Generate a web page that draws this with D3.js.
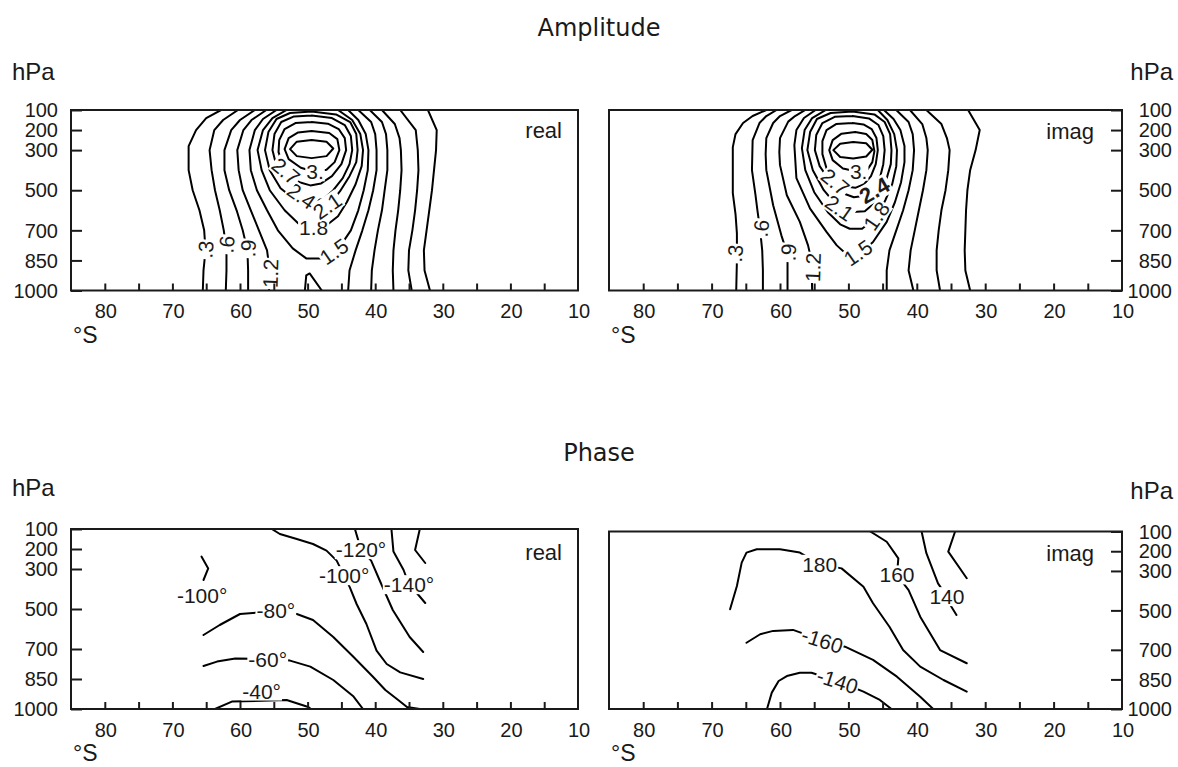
<!DOCTYPE html>
<html><head><meta charset="utf-8">
<script src="https://cdn.jsdelivr.net/npm/d3@7"></script>
<style>body{margin:0;background:#fff}svg{display:block}</style>
</head><body>
<svg id="c" width="1178" height="767"></svg>
<script>
// ---------- axis data ----------
const latTicks = [80,75,70,65,60,55,50,45,40,35,30,25,20,15];
const latLabels = [80,70,60,50,40,30,20,10];
const pTicks = [100,200,300,500,700,850,1000];
const latDomain = [85,10];
const pDomain = [100,1000];

// ---------- Amplitude, real : contour lines [lat, hPa] ----------
const ampReal_03 = [[62.8,100],[65.0,140],[66.5,200],[67.6,280],[67.6,400],[67.0,500],[66.0,600],[65.3,700],[65.1,800],[65.4,900],[65.5,1000]];
const ampReal_06 = [[60.3,100],[62.5,150],[63.8,200],[64.5,300],[64.2,400],[63.7,500],[63.0,600],[62.4,700],[62.0,800],[62.0,900],[62.1,1000]];
const ampReal_09 = [[57.8,100],[60.0,150],[61.3,200],[62.3,300],[62.3,400],[61.6,500],[60.5,600],[59.6,700],[58.9,800],[58.8,900],[58.8,1000]];
const ampReal_12 = [[56.1,100],[58.3,150],[59.5,200],[60.4,300],[60.2,400],[59.6,500],[58.4,600],[57.2,700],[56.0,800],[55.6,900],[55.7,1000]];
const ampReal_15 = [[54.6,100],[56.6,145],[57.8,200],[58.6,300],[58.4,400],[57.5,500],[56.0,600],[54.4,700],[52.2,790],[50.2,840],[48.0,840],[46.0,810],[44.6,750],[43.6,700],[42.5,600],[41.7,500],[41.1,400],[41.0,300],[41.4,220],[42.5,150],[44.0,100]];
const ampReal_18 = [[53.1,100],[55.2,140],[56.6,200],[57.4,300],[56.8,400],[55.6,500],[53.4,600],[51.4,665],[49.2,688],[47.0,670],[45.5,630],[44.2,560],[42.9,470],[42.0,380],[41.8,300],[42.2,220],[43.4,150],[45.5,100]];
const ampReal_21 = [[49.4,108],[52.6,115],[54.6,145],[55.8,210],[56.3,300],[55.6,400],[54.0,490],[51.6,555],[49.0,592],[47.6,590],[46.6,565],[45.2,505],[43.8,430],[42.8,360],[42.6,300],[42.8,220],[43.7,160],[45.8,122],[49.4,108]];
const ampReal_24 = [[49.4,128],[52.0,132],[53.9,160],[54.9,220],[55.2,300],[54.6,380],[53.2,450],[51.6,505],[50.4,535],[49.0,552],[47.6,542],[46.2,500],[44.8,440],[43.8,370],[43.4,300],[43.6,230],[44.5,175],[46.4,140],[49.4,128]];
const ampReal_27 = [[49.4,160],[51.8,165],[53.4,195],[54.2,250],[54.3,310],[53.6,380],[52.6,425],[51.2,460],[49.6,476],[48.0,466],[46.4,430],[45.0,370],[44.3,300],[44.5,240],[45.4,195],[47.0,168],[49.4,160]];
const ampReal_30 = [[49.4,205],[51.4,212],[52.8,240],[53.4,295],[52.8,345],[51.0,388],[49.0,408],[47.2,398],[46.0,360],[45.3,300],[45.6,245],[46.8,215],[49.4,205]];
const ampReal_33 = [[52.6,295],[51.6,258],[49.4,250],[47.2,258],[46.2,292],[47.2,330],[49.4,340],[51.6,330],[52.6,295]];
const ampReal_R5 = [[42.5,100],[40.6,160],[40.0,220],[39.8,300],[39.8,400],[40.3,500],[41.0,600],[41.9,700],[42.9,800],[43.8,900],[44.0,1000]];
const ampReal_R4 = [[40.8,100],[39.0,160],[38.4,220],[38.2,300],[38.2,400],[38.6,500],[39.0,600],[39.6,700],[40.1,800],[40.5,900],[40.6,1000]];
const ampReal_R3 = [[39.0,100],[37.1,170],[36.4,240],[36.2,300],[36.1,400],[36.3,500],[36.6,600],[37.0,700],[37.3,800],[37.4,900],[37.3,1000]];
const ampReal_R2 = [[36.3,100],[34.0,200],[33.7,300],[33.6,400],[33.8,500],[34.1,600],[34.5,700],[35.0,800],[35.1,900],[34.6,1000]];
const ampReal_R1 = [[32.2,100],[30.9,200],[31.0,300],[31.3,400],[31.6,500],[32.0,600],[32.4,700],[32.8,800],[32.7,900],[31.9,1000]];
const ampReal_low = [[50.4,1000],[50.2,925],[49.7,915],[47.9,1000]];
const ampRealLabels = [
  {t:".3",lat:65.1,p:795,a:-85},{t:".6",lat:62.0,p:770,a:-85},{t:".9",lat:58.8,p:790,a:-88},
  {t:"1.2",lat:55.5,p:915,a:-88},{t:"1.5",lat:46.1,p:805,a:-35},{t:"1.8",lat:49.1,p:688,a:0},
  {t:"2.1",lat:47.1,p:578,a:-35},{t:"2.4",lat:50.9,p:528,a:35},{t:"2.7",lat:53.2,p:405,a:40},
  {t:"3.",lat:48.9,p:408,a:0}];

// ---------- Amplitude, imag ----------
const ampImag_03 = [[62.0,100],[64.0,130],[65.4,165],[66.5,220],[66.9,285],[66.9,400],[66.9,515],[66.5,620],[66.3,715],[66.3,850],[66.4,1000]];
const ampImag_06 = [[60.5,100],[62.0,130],[63.0,165],[64.0,250],[64.1,400],[63.6,520],[63.3,600],[62.9,700],[62.6,800],[62.5,900],[62.5,1000]];
const ampImag_09 = [[58.3,100],[60.0,130],[61.0,165],[62.0,240],[62.1,320],[62.0,400],[61.0,575],[59.8,725],[58.9,820],[58.9,900],[58.9,1000]];
const ampImag_12 = [[56.3,100],[57.8,130],[58.8,158],[60.0,240],[60.1,310],[60.0,375],[59.0,525],[57.1,658],[55.9,775],[55.4,850],[55.3,1000]];
const ampImag_15 = [[54.8,100],[56.5,140],[57.6,200],[57.9,275],[57.6,440],[55.6,592],[53.2,708],[51.7,775],[50.4,815],[49.4,825],[48.0,805],[46.4,758],[44.4,658],[43.2,560],[42.3,460],[41.8,360],[41.8,280],[42.4,200],[43.4,145],[44.8,100]];
const ampImag_18 = [[53.3,100],[55.3,140],[56.4,200],[56.8,290],[56.3,400],[55.0,510],[53.0,610],[51.2,670],[49.8,692],[48.0,692],[46.8,660],[45.6,615],[44.6,550],[43.6,470],[43.0,380],[42.9,300],[43.3,220],[44.3,150],[45.7,100]];
const ampImag_21 = [[49.4,108],[52.6,115],[54.6,145],[55.6,210],[56.0,300],[55.2,400],[53.6,500],[51.5,585],[49.4,608],[47.6,605],[46.4,570],[45.4,515],[44.4,440],[43.8,370],[43.7,300],[43.9,220],[44.7,160],[46.2,122],[49.4,108]];
const ampImag_24 = [[49.4,130],[52.0,134],[53.8,165],[54.7,225],[54.9,300],[54.2,380],[52.6,460],[50.8,515],[49.2,535],[47.6,528],[46.3,495],[45.4,440],[44.9,370],[44.7,300],[44.9,230],[45.6,175],[47.0,142],[49.4,130]];
const ampImag_27 = [[49.4,165],[51.8,170],[53.2,200],[53.8,255],[53.8,320],[53.2,390],[52.0,450],[50.6,480],[49.0,488],[47.7,470],[46.7,430],[46.0,370],[45.7,300],[45.9,240],[46.6,195],[47.8,172],[49.4,165]];
const ampImag_30 = [[49.0,210],[51.0,218],[52.3,250],[52.8,300],[52.3,350],[50.8,392],[48.6,408],[47.2,396],[46.5,360],[46.2,305],[46.5,250],[47.4,220],[49.0,210]];
const ampImag_33 = [[52.2,300],[51.2,268],[49.3,260],[47.4,266],[46.5,298],[47.4,332],[49.3,342],[51.2,334],[52.2,300]];
const ampImag_Ra = [[43.0,100],[41.2,160],[40.6,220],[40.4,300],[40.6,400],[41.2,500],[42.0,600],[43.0,700],[44.0,800],[44.4,900],[44.4,1000]];
const ampImag_Rb = [[41.0,100],[39.2,170],[38.6,240],[38.4,300],[38.6,400],[39.1,500],[39.7,600],[40.3,700],[40.9,800],[41.2,900],[40.5,1000]];
const ampImag_Rc = [[38.6,100],[36.4,170],[35.6,240],[35.2,300],[35.4,400],[35.8,500],[36.4,600],[36.8,700],[37.1,800],[37.1,900],[36.6,1000]];
const ampImag_Rd = [[32.5,100],[30.8,200],[31.4,300],[32.2,400],[32.6,500],[32.8,600],[32.9,700],[33.0,800],[32.9,900],[32.2,1000]];
const ampImagLabels = [
  {t:".3",lat:66.6,p:815,a:-85},{t:".6",lat:62.8,p:690,a:-85},{t:".9",lat:58.8,p:810,a:-88},
  {t:"1.2",lat:55.2,p:885,a:-88},{t:"1.5",lat:48.6,p:812,a:-35},{t:"1.8",lat:45.9,p:628,a:-55},
  {t:"2.1",lat:51.3,p:588,a:35},{t:"2.4",lat:46.2,p:500,a:-30,bold:true},{t:"2.7",lat:51.9,p:458,a:40},
  {t:"3.",lat:48.5,p:405,a:0}];

// ---------- Phase, real ----------
const phReal_m100 = [[55.3,100],[54.1,125],[51.6,150],[49.2,175],[47.2,208],[45.7,258],[44.6,333],[43.75,392],[42.75,475],[41.3,575],[39.8,708],[38.3,775],[36.3,817],[32.9,850]];
const phReal_m100w = [[65.7,238],[64.7,297],[65.4,355]];
const phReal_m120 = [[43.0,100],[42.1,203],[40.6,258],[39.3,360],[37.4,505],[34.9,640],[32.9,715]];
const phReal_m140 = [[37.6,100],[37.3,213],[35.8,305],[35.0,378],[33.6,430],[32.6,470]];
const phReal_m140b = [[33.4,100],[34.1,205],[32.6,270]];
const phReal_m80 = [[65.4,630],[63.0,580],[60.0,525],[54.7,510],[51.6,525],[49.2,555],[46.2,640],[43.2,740],[40.3,840],[38.5,905],[36.6,955],[35.3,990],[33.4,1000]];
const phReal_m60 = [[65.4,785],[63.4,763],[60.7,747],[55.9,750],[52.6,758],[49.6,788],[46.2,855],[43.2,938],[41.8,1000]];
const phReal_m40 = [[63.7,1000],[61.2,963],[53.1,955],[49.9,990],[49.5,1000]];
const phRealLabels = [
  {t:"-120°",lat:42.1,p:203,a:0},{t:"-100°",lat:44.6,p:333,a:0},{t:"-140°",lat:35.0,p:378,a:0},
  {t:"-100°",lat:65.6,p:430,a:0},{t:"-80°",lat:54.7,p:505,a:0},{t:"-60°",lat:55.9,p:750,a:0},
  {t:"-40°",lat:56.8,p:910,a:0}];

// ---------- Phase, imag ----------
const phImag_180 = [[67.3,494],[66.3,376],[65.6,258],[64.9,207],[63.4,190],[60.0,190],[57.1,207],[54.2,266],[51.0,287],[47.8,380],[46.4,464],[44.0,583],[42.0,701],[39.5,785],[36.1,853],[32.7,912]];
const phImag_160 = [[46.8,100],[44.4,152],[42.7,236],[42.9,320],[41.2,397],[39.5,532],[36.6,701],[32.7,768]];
const phImag_140 = [[39.3,100],[38.6,210],[36.9,363],[35.6,430],[35.1,473],[34.2,523]];
const phImag_140b = [[34.4,100],[35.4,202],[32.7,337]];
const phImag_m160 = [[64.9,664],[62.9,621],[61.0,604],[58.1,599],[53.8,652],[50.5,684],[46.4,751],[42.9,836],[39.5,938],[37.6,1000]];
const phImag_m140 = [[61.9,1000],[61.2,917],[60.2,858],[59.0,833],[57.1,816],[55.4,816],[51.6,858],[47.8,912],[45.4,954],[43.7,1000]];
const phImagLabels = [
  {t:"180",lat:54.2,p:266,a:0},{t:"160",lat:42.9,p:320,a:0},{t:"140",lat:35.6,p:430,a:0},
  {t:"-160",lat:53.8,p:652,a:18},{t:"-140",lat:51.6,p:858,a:18}];

// ---------- panels ----------
const panels = [
  {id:"ar", x0:71, x1:578, y0:110, y1:290.5, side:"left", tag:"real", tagX:562, tagY:138,
   lines:[ampReal_03,ampReal_06,ampReal_09,ampReal_12,ampReal_15,ampReal_18,ampReal_21,ampReal_24,ampReal_27,ampReal_30,ampReal_33,ampReal_R5,ampReal_R4,ampReal_R3,ampReal_R2,ampReal_R1,ampReal_low],
   labels:ampRealLabels, xlabY:318, degY:343},
  {id:"ai", x0:609, x1:1122, y0:110, y1:290.5, side:"right", tag:"imag", tagX:1094, tagY:139,
   lines:[ampImag_03,ampImag_06,ampImag_09,ampImag_12,ampImag_15,ampImag_18,ampImag_21,ampImag_24,ampImag_27,ampImag_30,ampImag_33,ampImag_Ra,ampImag_Rb,ampImag_Rc,ampImag_Rd],
   labels:ampImagLabels, xlabY:318, degY:343},
  {id:"pr", x0:71, x1:578, y0:529, y1:709, side:"left", tag:"real", tagX:562, tagY:560,
   lines:[phReal_m100,phReal_m100w,phReal_m120,phReal_m140,phReal_m140b,phReal_m80,phReal_m60,phReal_m40],
   labels:phRealLabels, xlabY:737, degY:761},
  {id:"pi", x0:609, x1:1122, y0:531.5, y1:709, side:"right", tag:"imag", tagX:1094, tagY:561,
   lines:[phImag_180,phImag_160,phImag_140,phImag_140b,phImag_m160,phImag_m140],
   labels:phImagLabels, xlabY:737, degY:761}
];

const svg = d3.select("#c");
const INK = "#1a1a1a";
const FONT = "'Liberation Sans', Arial, Helvetica, sans-serif";
const defs = svg.append("defs");

function drawPanel(cfg){
  const x = d3.scaleLinear().domain(latDomain).range([cfg.x0, cfg.x1]);
  const y = d3.scaleLinear().domain(pDomain).range([cfg.y0, cfg.y1]);
  const g = svg.append("g");
  defs.append("clipPath").attr("id","clip-"+cfg.id).append("rect")
    .attr("x",cfg.x0).attr("y",cfg.y0).attr("width",cfg.x1-cfg.x0).attr("height",cfg.y1-cfg.y0);

  const line = d3.line().x(d=>x(d[0])).y(d=>y(d[1]));
  g.append("g").attr("clip-path","url(#clip-"+cfg.id+")")
    .selectAll("path").data(cfg.lines).join("path")
    .attr("d", d=>line(d)).attr("fill","none").attr("stroke","#000")
    .attr("stroke-width",2).attr("stroke-linejoin","round").attr("stroke-linecap","round");

  // contour labels with white gaps
  const lg = g.append("g");
  cfg.labels.forEach(l=>{
    const gg = lg.append("g").attr("transform",`translate(${x(l.lat)},${y(l.p)}) rotate(${l.a})`);
    const t = gg.append("text").text(l.t).attr("text-anchor","middle").attr("dy","0.36em")
      .attr("font-family",FONT).attr("font-size",l.bold?22:21).attr("fill",INK)
      .attr("font-weight", l.bold?"bold":"normal");
    const b = t.node().getBBox();
    gg.insert("rect","text").attr("x",b.x-1).attr("y",b.y+2).attr("width",b.width+2).attr("height",b.height-4).attr("fill","#fff");
  });

  // frame
  g.append("rect").attr("x",cfg.x0).attr("y",cfg.y0).attr("width",cfg.x1-cfg.x0).attr("height",cfg.y1-cfg.y0)
    .attr("fill","none").attr("stroke",INK).attr("stroke-width",2);

  // x axis (ticks inward)
  const xa = d3.axisBottom(x).tickValues(latTicks).tickSize(-7).tickFormat("");
  const xg = g.append("g").attr("transform",`translate(0,${cfg.y1})`).call(xa);
  xg.select(".domain").remove();
  xg.selectAll("line").attr("stroke",INK).attr("stroke-width",2);
  g.append("g").selectAll("text").data(latLabels).join("text")
    .attr("x",d=>x(d)+1).attr("y",cfg.xlabY).attr("text-anchor","middle")
    .attr("font-family",FONT).attr("font-size",20).attr("fill",INK).text(d=>d);

  // y axis
  const ya = (cfg.side==="left"? d3.axisLeft(y) : d3.axisRight(y)).tickValues(pTicks).tickSize(-11).tickFormat("");
  const yg = g.append("g").attr("transform",`translate(${cfg.side==="left"?cfg.x0:cfg.x1},0)`).call(ya);
  yg.select(".domain").remove();
  yg.selectAll("line").attr("stroke",INK).attr("stroke-width",2);
  g.append("g").selectAll("text").data(pTicks).join("text")
    .attr("x", cfg.side==="left"? cfg.x0-13 : 1172).attr("y",d=>y(d)).attr("dy","0.36em")
    .attr("text-anchor","end").attr("font-family",FONT).attr("font-size",20).attr("fill",INK).text(d=>d);

  // unit labels
  g.append("text").attr("x", cfg.x0+2).attr("y", cfg.degY).attr("font-family",FONT)
    .attr("font-size",23).attr("fill",INK).text("°S");
  g.append("text").attr("x", cfg.side==="left"? 12 : 1173).attr("y", cfg.y0 - (cfg.y0>300?33:30))
    .attr("text-anchor", cfg.side==="left"?"start":"end")
    .attr("font-family",FONT).attr("font-size",24).attr("fill",INK).text("hPa");
  g.append("text").attr("x",cfg.tagX).attr("y",cfg.tagY).attr("text-anchor","end")
    .attr("font-family",FONT).attr("font-size",22).attr("fill",INK).text(cfg.tag);
}
panels.forEach(drawPanel);

svg.append("text").attr("x",599).attr("y",36).attr("text-anchor","middle")
  .attr("font-family","'DejaVu Sans', Verdana, sans-serif").attr("font-size",24).attr("fill",INK).text("Amplitude");
svg.append("text").attr("x",599).attr("y",461).attr("text-anchor","middle")
  .attr("font-family","'DejaVu Sans', Verdana, sans-serif").attr("font-size",24).attr("fill",INK).text("Phase");
</script>
</body></html>
